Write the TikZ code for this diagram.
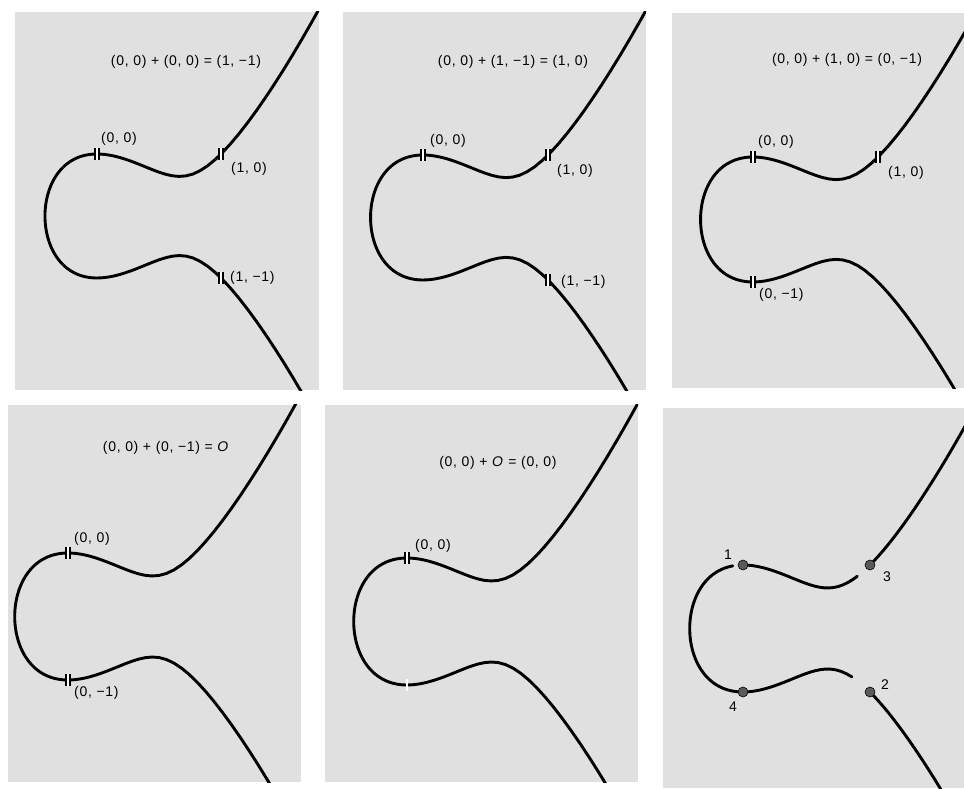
\documentclass[tikz,border=0pt]{standalone}
\usepackage{fontspec}
\setmainfont[LetterSpace=5]{Liberation Sans}
\usepackage{xcolor}
\usepackage{tikz}
\usetikzlibrary{positioning}
\definecolor{panelgray}{RGB}{224,224,224}
\definecolor{dotgray}{RGB}{90,90,90}
\tikzset{
  panel/.style={rectangle,draw=none,fill=panelgray,inner sep=0pt},
  curve/.style={line width=2.9pt,color=black,line cap=round},
  lbl/.style={inner sep=0pt,font=\fontsize{14}{16}\selectfont},
  ttl/.style={inner sep=0pt,font=\fontsize{14}{16}\selectfont},
  ptmark/.style={double=white,double distance=2.4pt,line width=1.8pt},
}

\begin{document}
\begin{tikzpicture}[x=1pt,y=1pt,
        declare function={ecx(\t)=-0.41964+\t*\t;
                           ecy(\t)=-0.5+\t*sqrt(ecx(\t)*ecx(\t)-1.41964*ecx(\t)+0.59574);},
        gapmark/.style={white,line width=2.4pt},
        dot/.style={circle,fill=dotgray,draw=black,line width=0.6pt,
                    minimum size=10pt,inner sep=0pt},
      ]
        \useasboundingbox (0,0) rectangle (964,788);

        % ── Panel 1 : (0,0)+(0,0)
        \node[panel,minimum width=304pt,minimum height=378pt] (pan1) at (167,587) {};
        \node[ttl] (t1) at (186,726) {(0, 0) + (0, 0) = (1, −1)};
        \begin{scope}[shift={(97,634)},x=124pt,y=124pt]
          \clip (pan1.south west) rectangle (pan1.north east);
          \draw[curve] plot[domain=-1.6:1.6,samples=121,variable=\s] ({ecx(\s)},{ecy(\s)});
          \coordinate (p1a) at (0,0);
          \coordinate (p1b) at (1,0);
          \coordinate (p1c) at (1,-1);
        \end{scope}
        \draw[ptmark] (p1a) +(0,-6pt) -- +(0,6pt);
        \draw[ptmark] (p1b) +(0,-6pt) -- +(0,6pt);
        \draw[ptmark] (p1c) +(0,-6pt) -- +(0,6pt);
        \node[lbl,above right=8pt and 4pt of p1a] (l1a) {(0, 0)};
        \node[lbl,below right=8pt and 10pt of p1b] (l1b) {(1, 0)};
        \node[lbl,right=9pt of p1c] (l1c) {(1, −1)};

        % ── Panel 2 : (0,0)+(1,-1)
        \node[panel,minimum width=303pt,minimum height=378pt] (pan2) at (494.5,587) {};
        \node[ttl] (t2) at (513,726) {(0, 0) + (1, −1) = (1, 0)};
        \begin{scope}[shift={(423,633)},x=125pt,y=125pt]
          \clip (pan2.south west) rectangle (pan2.north east);
          \draw[curve] plot[domain=-1.6:1.6,samples=121,variable=\s] ({ecx(\s)},{ecy(\s)});
          \coordinate (p2a) at (0,0);
          \coordinate (p2b) at (1,0);
          \coordinate (p2c) at (1,-1);
        \end{scope}
        \draw[ptmark] (p2a) +(0,-6pt) -- +(0,6pt);
        \draw[ptmark] (p2b) +(0,-6pt) -- +(0,6pt);
        \draw[ptmark] (p2c) +(0,-6pt) -- +(0,6pt);
        \node[lbl,above right=7pt and 7pt of p2a] (l2a) {(0, 0)};
        \node[lbl,below right=9pt and 9pt of p2b] (l2b) {(1, 0)};
        \node[lbl,right=13pt of p2c,yshift=-2pt] (l2c) {(1, −1)};

        % ── Panel 3 : (0,0)+(1,0)
        \node[panel,minimum width=292pt,minimum height=375pt] (pan3) at (818,587.5) {};
        \node[ttl] (t3) at (847,728) {(0, 0) + (1, 0) = (0, −1)};
        \begin{scope}[shift={(753,631)},x=125pt,y=125pt]
          \clip (pan3.south west) rectangle (pan3.north east);
          \draw[curve] plot[domain=-1.6:1.6,samples=121,variable=\s] ({ecx(\s)},{ecy(\s)});
          \coordinate (p3a) at (0,0);
          \coordinate (p3b) at (1,0);
          \coordinate (p3d) at (0,-1);
        \end{scope}
        \draw[ptmark] (p3a) +(0,-6pt) -- +(0,6pt);
        \draw[ptmark] (p3b) +(0,-6pt) -- +(0,6pt);
        \draw[ptmark] (p3d) +(0,-6pt) -- +(0,6pt);
        \node[lbl,above right=8pt and 5pt of p3a] (l3a) {(0, 0)};
        \node[lbl,below right=9pt and 10pt of p3b] (l3b) {(1, 0)};
        \node[lbl,below right=6pt and 6pt of p3d] (l3d) {(0, −1)};

        % ── Panel 4 : (0,0)+(0,-1)
        \node[panel,minimum width=293pt,minimum height=377pt] (pan4) at (154.5,194.5) {};
        \node[ttl] (t4) at (166,340) {(0, 0) + (0, −1) = \textit{O}};
        \begin{scope}[shift={(68,235)},x=127pt,y=127pt]
          \clip (pan4.south west) rectangle (pan4.north east);
          \draw[curve] plot[domain=-1.6:1.6,samples=121,variable=\s] ({ecx(\s)},{ecy(\s)});
          \coordinate (p4a) at (0,0);
          \coordinate (p4d) at (0,-1);
        \end{scope}
        \draw[ptmark] (p4a) +(0,-6pt) -- +(0,6pt);
        \draw[ptmark] (p4d) +(0,-6pt) -- +(0,6pt);
        \node[lbl,above right=7pt and 6pt of p4a] (l4a) {(0, 0)};
        \node[lbl,below right=6pt and 6pt of p4d] (l4d) {(0, −1)};

        % ── Panel 5 : (0,0)+O
        \node[panel,minimum width=313pt,minimum height=377pt] (pan5) at (481.5,194.5) {};
        \node[ttl] (t5) at (498,325) {(0, 0) + \textit{O} = (0, 0)};
        \begin{scope}[shift={(407,230)},x=127pt,y=127pt]
          \clip (pan5.south west) rectangle (pan5.north east);
          \draw[curve] plot[domain=-1.6:1.6,samples=121,variable=\s] ({ecx(\s)},{ecy(\s)});
          \coordinate (p5a) at (0,0);
          \coordinate (p5d) at (0,-1);
        \end{scope}
        \draw[ptmark] (p5a) +(0,-6pt) -- +(0,6pt);
        \draw[gapmark] (p5d) +(0,-6pt) -- +(0,6pt);
        \node[lbl,above right=5pt and 8pt of p5a] (l5a) {(0, 0)};

        % ── Panel 6 : the four points
        \node[panel,minimum width=301pt,minimum height=380pt] (pan6) at (813.5,190) {};
        \begin{scope}[shift={(743,223)},x=127pt,y=127pt]
          \clip (pan6.south west) rectangle (pan6.north east);
          \draw[curve] plot[domain=-1.6:-1.191,samples=30,variable=\s] ({ecx(\s)},{ecy(\s)});
          \draw[curve] plot[domain=-1.130:0.583,samples=90,variable=\s] ({ecx(\s)},{ecy(\s)});
          \draw[curve] plot[domain=0.648:1.149,samples=30,variable=\s] ({ecx(\s)},{ecy(\s)});
          \draw[curve] plot[domain=1.191:1.6,samples=30,variable=\s] ({ecx(\s)},{ecy(\s)});
          \coordinate (q1) at (0,0);
          \coordinate (q3) at (1,0);
          \coordinate (q2) at (1,-1);
          \coordinate (q4) at (0,-1);
        \end{scope}
        \node[dot] (d1) at (q1) {};
        \node[dot] (d2) at (q2) {};
        \node[dot] (d3) at (q3) {};
        \node[dot] (d4) at (q4) {};
        \node[lbl,above left=5pt and 11pt of q1] (n1) {1};
        \node[lbl,above right=2pt and 11pt of q2] (n2) {2};
        \node[lbl,below right=7pt and 13pt of q3] (n3) {3};
        \node[lbl,below left=10pt and 6pt of q4] (n4) {4};
      \end{tikzpicture}
\end{document}
